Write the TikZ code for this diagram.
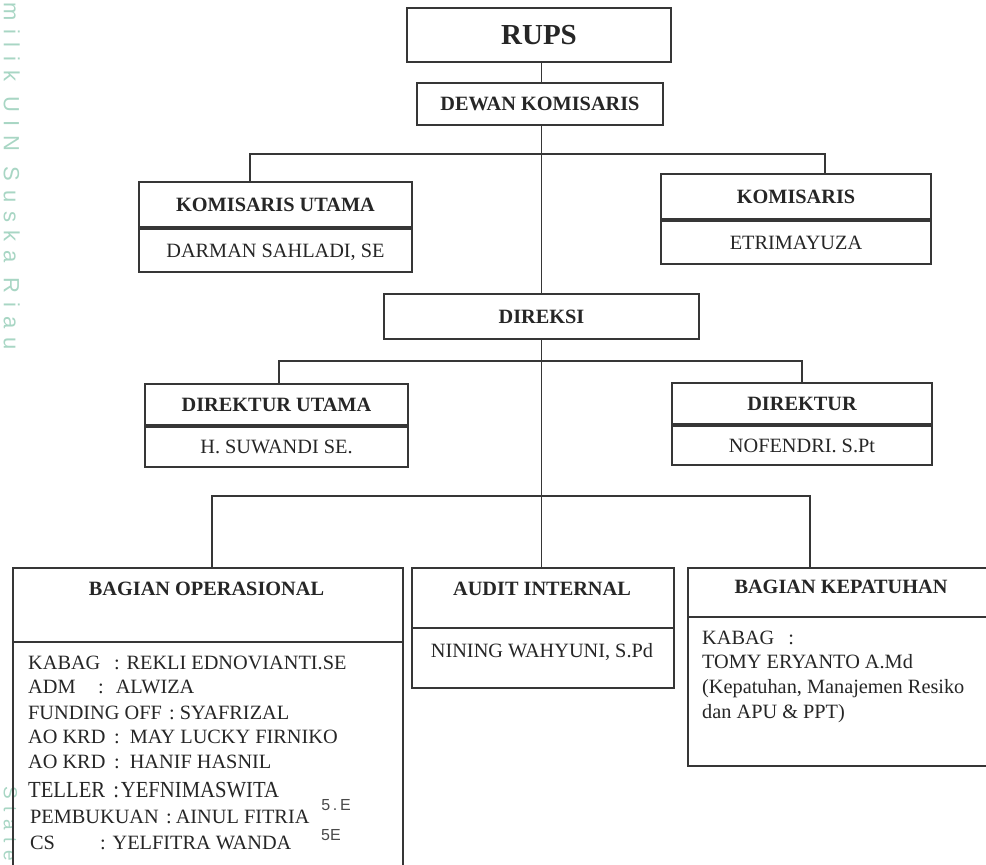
\documentclass[tikz,border=0pt]{standalone}
\usepackage{fontspec}
\usepackage{graphicx}
\setmainfont{Liberation Serif}
\newfontfamily\wmfont[LetterSpace=40]{Liberation Sans}
\newfontfamily\handfont{Liberation Sans}
\definecolor{ink}{HTML}{262626}
\definecolor{linec}{HTML}{363636}
\definecolor{wmgreen}{HTML}{A8D6C4}
\definecolor{handc}{HTML}{4A4A4A}
\begin{document}
\begin{tikzpicture}[x=1pt,y=-1pt,
  box/.style={draw=linec, line width=1.8pt, inner sep=0pt, text=ink},
  hd/.style={font=\fontsize{20.3}{24}\selectfont\bfseries, text=ink, inner sep=0pt, text height=13.4pt, text depth=0pt},
  hdbig/.style={font=\fontsize{29}{32}\selectfont\bfseries, text=ink, inner sep=0pt, text height=19.2pt, text depth=0pt},
  nm/.style={font=\fontsize{20.3}{24}\selectfont, text=ink, inner sep=0pt, text height=13.4pt, text depth=0pt},
  ln/.style={font=\fontsize{20.3}{24}\selectfont, text=ink, inner sep=0pt, anchor=base west},
  conn/.style={draw=linec, line width=1.8pt},
  wm/.style={text=wmgreen, inner sep=0pt, rotate=-90, anchor=base west, text depth=0pt},
  hand/.style={text=handc, inner sep=0pt, font=\handfont\fontsize{16}{16}\selectfont}]
\fill[white] (0,0) rectangle (986,865);
\clip (0,0) rectangle (986,865);

% watermark text
\node[wm, font=\wmfont\fontsize{22}{22}\selectfont] (wma) at (4,2) {milik UIN Suska Riau};
\node[wm, font=\wmfont\fontsize{19}{19}\selectfont] (wmb) at (4,786) {State};

% top boxes
\node[box,hdbig,minimum width=264pt,minimum height=54pt] (rups) at (539,35) {RUPS};
\node[box,hd,minimum width=246pt,minimum height=42pt] (dewan) at (540,104) {DEWAN KOMISARIS};
\node[box,hd,minimum width=273pt,minimum height=45pt] (kuh) at (275.5,204.5) {KOMISARIS UTAMA};
\node[box,nm,minimum width=273pt,minimum height=43pt,anchor=north] (kun) at (kuh.south) {DARMAN SAHLADI, SE};
\node[box,hd,minimum width=270pt,minimum height=45pt] (koh) at (796,196.5) {KOMISARIS};
\node[box,nm,minimum width=270pt,minimum height=43pt,anchor=north] (kon) at (koh.south) {ETRIMAYUZA};
\node[box,hd,minimum width=315pt,minimum height=45pt] (dir) at (541.5,316.5) {DIREKSI};
\node[box,hd,minimum width=263pt,minimum height=41pt] (duh) at (276.5,404.5) {DIREKTUR UTAMA};
\node[box,nm,minimum width=263pt,minimum height=40pt,anchor=north] (dun) at (duh.south) {H. SUWANDI SE.};
\node[box,hd,minimum width=260pt,minimum height=41pt] (drh) at (802,403.5) {DIREKTUR};
\node[box,nm,minimum width=260pt,minimum height=39pt,anchor=north] (drn) at (drh.south) {NOFENDRI. S.Pt};

% bottom boxes
\node[box,minimum width=390pt,minimum height=74pt,anchor=north west] (oph) at (12,567) {};
\node[box,minimum width=390pt,minimum height=240pt,anchor=north west] (opb) at (12,641) {};
\node[box,minimum width=262pt,minimum height=60pt,anchor=north west] (auh) at (411,567) {};
\node[box,minimum width=262pt,minimum height=60pt,anchor=north west] (aub) at (411,627) {};
\node[box,minimum width=320pt,minimum height=49pt,anchor=north west] (kph) at (687,567) {};
\node[box,minimum width=320pt,minimum height=149pt,anchor=north west] (kpb) at (687,616) {};

\node[hd,anchor=base] (opt) at (206.5,595) {BAGIAN OPERASIONAL};
\node[hd,anchor=base] (aut) at (542,595) {AUDIT INTERNAL};
\node[hd,anchor=base] (kpt) at (841,593) {BAGIAN KEPATUHAN};
\node[nm,anchor=base] (aun) at (542,657) {NINING WAHYUNI, S.Pd};

% operasional list
\node[ln] (o1) at (28,669) {\makebox[86pt][l]{KABAG}: REKLI EDNOVIANTI.SE};
\node[ln] (o2) at (28,693) {\makebox[70pt][l]{ADM}:\hspace{12pt}ALWIZA};
\node[ln] (o3) at (28,719) {\makebox[141pt][l]{FUNDING OFF}:\hspace{5pt}SYAFRIZAL};
\node[ln] (o4) at (28,743) {\makebox[86pt][l]{AO KRD}:\hspace{10pt}MAY LUCKY FIRNIKO};
\node[ln] (o5) at (28,768) {\makebox[86pt][l]{AO KRD}:\hspace{10pt}HANIF HASNIL};
\node[ln] (o6) at (28,797) {\scalebox{0.9}[1]{\fontsize{23}{24}\selectfont TELLER\hspace{9pt}:\hspace{2pt}YEFNIMASWITA}};
\node[ln] (o7) at (30,823) {\makebox[136pt][l]{PEMBUKUAN}:\hspace{4pt}AINUL FITRIA};
\node[ln] (o8) at (30,849) {\makebox[70pt][l]{CS}: YELFITRA WANDA};
\node[hand] (h1) at (336,805) {5\,.\,E};
\node[hand] (h2) at (331,835) {5E};

% kepatuhan list
\node[ln] (k1) at (702,644) {KABAG\hspace{14pt}:};
\node[ln] (k2) at (702,668) {TOMY ERYANTO A.Md};
\node[ln] (k3) at (702,693) {(Kepatuhan, Manajemen Resiko};
\node[ln] (k4) at (702,718) {dan APU \& PPT)};

% connectors
\coordinate (kbl) at (250,154);
\coordinate (kbr) at (825,154);
\coordinate (dbl) at (279,361);
\coordinate (dbr) at (802,361);
\coordinate (bbl) at (212,496);
\coordinate (bbr) at (810,496);
\draw[conn] (rups.south -| dir.north) -- (dewan.north -| dir.north);
\draw[conn] (dewan.south -| dir.north) -- (dir.north);
\draw[conn] (kuh.north -| kbl) -- (kbl) -- (kbr) -- (koh.north -| kbr);
\draw[conn] (dir.south) -- (auh.north -| dir.south);
\draw[conn] (duh.north -| dbl) -- (dbl) -- (dbr) -- (drh.north -| dbr);
\draw[conn] (oph.north -| bbl) -- (bbl) -- (bbr) -- (kph.north -| bbr);
\end{tikzpicture}
\end{document}
